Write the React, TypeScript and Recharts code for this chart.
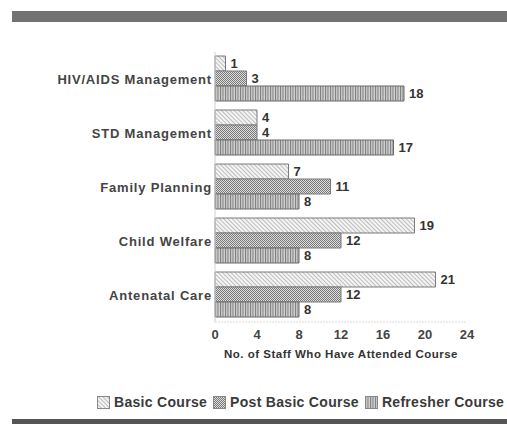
import React from "react";
import { BarChart, Bar, XAxis, YAxis, LabelList, Legend } from "recharts";

const categories = [
  "HIV/AIDS Management",
  "STD Management",
  "Family Planning",
  "Child Welfare",
  "Antenatal Care",
];
const basicCourse = [1, 4, 7, 19, 21];
const postBasicCourse = [3, 4, 11, 12, 12];
const refresherCourse = [18, 17, 8, 8, 8];
const xTicks = [0, 4, 8, 12, 16, 20, 24];

const seriesNames = ["Basic Course", "Post Basic Course", "Refresher Course"];
const patternIds = ["patBasic", "patPost", "patRefresher"];

const data = categories.map((c, i) => ({
  name: c,
  basic: basicCourse[i],
  post: postBasicCourse[i],
  refresher: refresherCourse[i],
}));

const FONT = "'Liberation Sans', Arial, Helvetica, sans-serif";

const Patterns = () => (
  <svg width={0} height={0} style={{ position: "absolute" }}>
    <defs>
      <pattern id="patBasic" patternUnits="userSpaceOnUse" width={3} height={3} patternTransform="rotate(-45)">
        <rect width={3} height={3} fill="#f4f4f4" />
        <line x1={0} y1={0} x2={0} y2={3} stroke="#8f8f8f" strokeWidth={1.1} />
      </pattern>
      <pattern id="patPost" patternUnits="userSpaceOnUse" width={2} height={2}>
        <rect width={2} height={2} fill="#dcdcdc" />
        <rect x={0} y={0} width={1} height={1} fill="#7a7a7a" />
        <rect x={1} y={1} width={1} height={1} fill="#7a7a7a" />
      </pattern>
      <pattern id="patRefresher" patternUnits="userSpaceOnUse" width={2.5} height={3}>
        <rect width={2.5} height={3} fill="#d2d2d2" />
        <line x1={0.5} y1={0} x2={0.5} y2={3} stroke="#7a7a7a" strokeWidth={1} />
      </pattern>
    </defs>
  </svg>
);

const LegendContent = () => (
  <div style={{ display: "flex", alignItems: "center", fontFamily: FONT, fontWeight: "bold", fontSize: 14, letterSpacing: 0.3, color: "#3a3a3a", whiteSpace: "nowrap" }}>
    {seriesNames.map((n, i) => (
      <span key={n} style={{ display: "flex", alignItems: "center", marginRight: 6 }}>
        <svg width={13} height={13} style={{ marginRight: 4 }}>
          <rect x={0.5} y={0.5} width={12} height={12} fill={`url(#${patternIds[i]})`} stroke="#888" />
        </svg>
        {n}
      </span>
    ))}
  </div>
);

const labelStyle = { fontSize: 13, fontWeight: "bold", fill: "#333", fontFamily: FONT };

export default function App() {
  return (
    <div style={{ position: "fixed", left: 0, top: 0, width: 507, height: 424, background: "#fff", overflow: "hidden", fontFamily: FONT }}>
      <Patterns />
      <div style={{ position: "absolute", left: 12, top: 11, width: 495, height: 11, background: "#727272" }} />
      <div style={{ position: "absolute", left: 12, top: 419, width: 495, height: 5, background: "#555" }} />
      <BarChart
        width={507}
        height={424}
        data={data}
        layout="vertical"
        margin={{ top: 52, right: 40, bottom: 62, left: 0 }}
        barCategoryGap={4}
        barGap={0}
      >
        <XAxis
          type="number"
          domain={[0, 24]}
          ticks={xTicks}
          tickLine={false}
          tickSize={0}
          tickMargin={8}
          axisLine={{ stroke: "#d8d8d8", strokeDasharray: "2 1" }}
          tick={{ fontSize: 13, fontWeight: "bold", fill: "#444", fontFamily: FONT }}
          height={40}
          label={{ value: "No. of Staff Who Have Attended Course", position: "insideBottom", offset: 4, style: { fontSize: 11.5, fontWeight: "bold", letterSpacing: 0.5, fill: "#333", fontFamily: FONT } }}
        />
        <YAxis
          type="category"
          dataKey="name"
          width={215}
          tickLine={false}
          tickSize={0}
          tickMargin={3}
          axisLine={{ stroke: "#d0d0d0" }}
          tick={{ fontSize: 13, fontWeight: "bold", letterSpacing: 0.8, fill: "#444", fontFamily: FONT }}
        />
        <Legend
          verticalAlign="middle"
          content={<LegendContent />}
          wrapperStyle={{ position: "absolute", left: 97, top: 394, width: 420 }}
        />
        <Bar dataKey="basic" name={seriesNames[0]} fill="url(#patBasic)" stroke="#7a7a7a" strokeWidth={1} isAnimationActive={false}>
          <LabelList dataKey="basic" position="right" offset={5} style={labelStyle} />
        </Bar>
        <Bar dataKey="post" name={seriesNames[1]} fill="url(#patPost)" stroke="#7a7a7a" strokeWidth={1} isAnimationActive={false}>
          <LabelList dataKey="post" position="right" offset={5} style={labelStyle} />
        </Bar>
        <Bar dataKey="refresher" name={seriesNames[2]} fill="url(#patRefresher)" stroke="#6a6a6a" strokeWidth={1} isAnimationActive={false}>
          <LabelList dataKey="refresher" position="right" offset={5} style={labelStyle} />
        </Bar>
      </BarChart>
    </div>
  );
}
